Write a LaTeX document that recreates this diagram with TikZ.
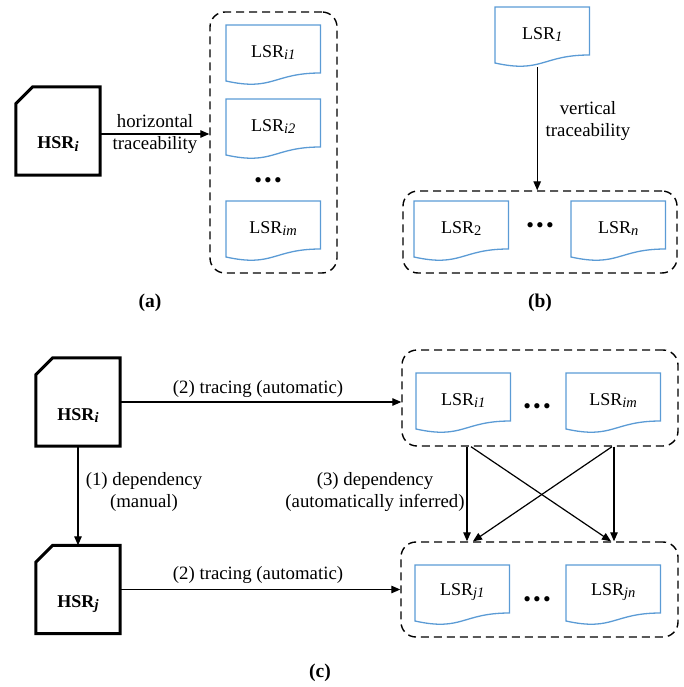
\documentclass[tikz,border=0pt]{standalone}
\usepackage{fontspec}
\setmainfont{Liberation Serif}
\usetikzlibrary{arrows.meta,calc}
\definecolor{docblue}{RGB}{91,155,213}
\newcommand\docout[1]{\draw[docline] (#1.north west) -- (#1.north east) -- ([yshift=-48pt]#1.north east) .. controls ([yshift=-48pt]#1.north) and ([yshift=-66.5pt]#1.north) .. ([yshift=-56pt]#1.north west) -- cycle;}
\newcommand\hsrout[1]{\draw[hsrline] (#1.south west) -- ([yshift=-17pt]#1.north west) -- ([xshift=17pt]#1.north west) -- (#1.north east) -- (#1.south east) -- cycle;}
\newcommand\mysub[1]{\raisebox{-2.2pt}{\fontsize{14.5pt}{15pt}\selectfont #1}}
\newcommand\hsrtext[1]{\raisebox{-18pt}[0pt][0pt]{\textbf{HSR}\mysub{\textbf{\textit{#1}}}}}
\newcommand\lsr[1]{LSR\mysub{\textit{#1}}}
\newcommand\threedots{{\fontsize{22pt}{22pt}\selectfont\textbullet\kern2.2pt\textbullet\kern2.2pt\textbullet}}
\tikzset{
  docnode/.style={minimum width=94pt, minimum height=54pt, inner sep=0pt, anchor=north west, font=\fontsize{18pt}{21pt}\selectfont},
  docline/.style={draw=docblue, line width=1.3pt, line join=miter},
  hsrbox/.style={minimum width=84pt, minimum height=88pt, inner sep=0pt, font=\fontsize{18pt}{20pt}\selectfont},
  hsrline/.style={draw=black, line width=3pt, line join=miter},
  container/.style={draw=black, line width=1.4pt, dash pattern=on 8pt off 5pt, rounded corners=15pt, inner sep=0pt},
  arr/.style={draw=black, line width=1.2pt, -{Triangle[length=9pt,width=7.5pt]}},
  lbl/.style={align=center, inner sep=0pt, font=\fontsize{18.8pt}{21.5pt}\selectfont},
  panelcap/.style={inner sep=0pt, font=\fontsize{19.5pt}{22pt}\selectfont\bfseries},
  dotsn/.style={inner sep=0pt}
}
\begin{document}
\begin{tikzpicture}[x=1pt,y=-1pt]
\useasboundingbox (0,0) rectangle (683,687);
% ---------- (a)
\node[container, minimum width=127pt, minimum height=261pt] (ca) at (273.5,142.5) {};
\node[hsrbox] (ha) at (58,131) {\hsrtext{i}};
\hsrout{ha}
\node[docnode] (a1) at (226,25) {\lsr{i1}}; \docout{a1}
\node[docnode] (a2) at (226,99) {\lsr{i2}}; \docout{a2}
\node[docnode] (a3) at (226,201) {\lsr{im}}; \docout{a3}
\node[dotsn] (da) at (268,183) {\threedots};
\draw[arr] ([yshift=-3pt]ha.east) -- ([yshift=-3pt]ha.east -| ca.west);
\node[lbl] (la) at (155,134) {horizontal\\traceability};
\node[panelcap] (capa) at (150,303) {(a)};
% ---------- (b)
\node[container, minimum width=274pt, minimum height=82pt] (cb) at (540,232) {};
\node[docnode] (l1) at (495,7) {\lsr{1}}; \docout{l1}
\node[docnode] (l2) at (414,201) {LSR\mysub{2}}; \docout{l2}
\node[docnode] (ln) at (571,201) {\lsr{n}}; \docout{ln}
\node[dotsn] (db) at (540,228) {\threedots};
\draw[arr] ([xshift=-5pt,yshift=-6pt]l1.south) -- ([xshift=-5pt]l1.south |- cb.north);
\node[lbl] (lb) at (588,121) {vertical\\traceability};
\node[panelcap] (capb) at (540,303) {(b)};
% ---------- (c)
\node[container, minimum width=276pt, minimum height=96pt] (ct) at (540,398) {};
\node[container, minimum width=277pt, minimum height=95pt] (cbot) at (539.5,589.5) {};
\node[hsrbox] (hi) at (78,402) {\hsrtext{i}};
\hsrout{hi}
\node[hsrbox] (hj) at (78,589.5) {\hsrtext{j}};
\hsrout{hj}
\node[docnode] (i1) at (416,373) {\lsr{i1}}; \docout{i1}
\node[docnode] (im) at (566,373) {\lsr{im}}; \docout{im}
\node[docnode] (j1) at (415,565) {\lsr{j1}}; \docout{j1}
\node[docnode] (jn) at (566,565) {\lsr{jn}}; \docout{jn}
\node[dotsn] (dt) at (537,409) {\threedots};
\node[dotsn] (dbt) at (537,602) {\threedots};
\draw[arr] (hi.south) -- (hj.north);
\draw[arr] (hi.east) -- (hi.east -| ct.west);
\draw[arr] (hj.east) -- (hj.east -| cbot.west);
\draw[arr] ([xshift=-73pt]ct.south) -- ([xshift=-72.5pt]cbot.north);
\draw[arr] ([xshift=74pt]ct.south) -- ([xshift=74.5pt]cbot.north);
\draw[arr] ([xshift=-69pt]ct.south) -- ([xshift=71.5pt]cbot.north);
\draw[arr] ([xshift=72pt]ct.south) -- ([xshift=-66.5pt]cbot.north);
\node[lbl] (l1lab) at (144,492) {(1) dependency\\(manual)};
\node[lbl] (l2top) at (258,389) {(2) tracing (automatic)};
\node[lbl] (l2bot) at (258,575) {(2) tracing (automatic)};
\node[lbl] (l3lab) at (375,492) {(3) dependency\\(automatically inferred)};
\node[panelcap] (capc) at (320,673) {(c)};
\end{tikzpicture}
\end{document}
